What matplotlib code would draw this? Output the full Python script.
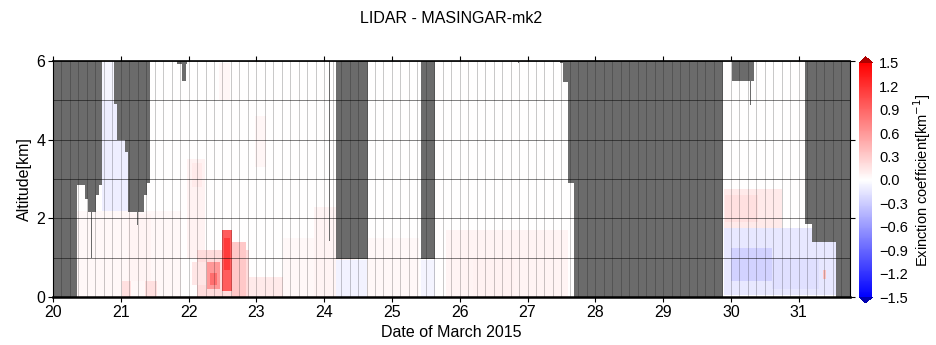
import numpy as np
import matplotlib
matplotlib.use("Agg")
import matplotlib.pyplot as plt
from matplotlib.colors import Normalize

plt.rcParams['font.family'] = ['Liberation Sans', 'DejaVu Sans']

# ---- data ----
title = "LIDAR - MASINGAR-mk2"
xlabel = "Date of March 2015"
ylabel = "Altitude[km]"
cbar_label = "Exinction coefficient[km$^{-1}$]"
day_ticks = [20, 21, 22, 23, 24, 25, 26, 27, 28, 29, 30, 31]
alt_ticks = [0, 2, 4, 6]
cbar_ticks = [-1.5, -1.2, -0.9, -0.6, -0.3, 0.0, 0.3, 0.6, 0.9, 1.2, 1.5]

# missing-data (grey) segments: start day, end day, lowest altitude of grey
gap_start = [20.00, 20.35, 20.47, 20.52, 20.565, 20.63, 20.68, 20.905, 20.94, 21.06,
             21.10, 21.24, 21.35, 21.38, 21.83, 21.90, 24.065, 24.18, 25.43, 26.855,
             27.48, 27.52, 27.60, 27.68, 30.02, 30.275, 31.09, 31.20, 31.55]
gap_end = [20.35, 20.47, 20.52, 20.63, 20.58, 20.68, 20.73, 20.94, 21.06, 21.10,
           21.35, 21.255, 21.38, 21.43, 21.97, 21.965, 24.08, 24.64, 25.64, 26.87,
           27.52, 27.60, 27.68, 29.89, 30.34, 30.29, 31.20, 31.55, 31.75]
gap_bottom = [0.0, 2.85, 2.5, 2.17, 1.0, 2.6, 2.85, 4.9, 4.0, 3.7,
              2.17, 1.83, 2.6, 2.9, 5.93, 5.5, 1.42, 0.97, 0.97, 5.95,
              5.95, 5.48, 2.9, 0.0, 5.5, 4.89, 1.85, 1.41, 0.0]

# extinction patches: start day, end day, bottom km, top km, value (km^-1)
ext_t0 = [20.35, 20.73, 20.73, 21.02, 21.36, 21.10, 21.98, 22.05, 22.12, 22.64,
          22.27, 22.32, 22.49, 22.52, 22.45, 22.98, 22.90, 23.40, 23.85, 24.18,
          24.64, 25.43, 25.80, 26.20, 29.90, 29.92, 29.90, 30.00, 30.60, 31.35,
          22.05]
ext_t1 = [21.90, 21.10, 20.90, 21.16, 21.53, 21.45, 22.24, 22.20, 22.90, 22.85,
          22.46, 22.42, 22.64, 22.60, 22.60, 23.15, 23.40, 23.90, 24.45, 24.64,
          25.40, 25.64, 27.60, 26.80, 30.75, 30.40, 31.60, 30.60, 31.30, 31.40,
          22.25]
ext_z0 = [0.0, 2.2, 5.0, 0.0, 0.0, 0.4, 1.0, 2.8, 0.0, 0.0,
          0.2, 0.3, 0.15, 0.7, 5.0, 3.3, 0.0, 0.0, 0.0, 0.0,
          0.0, 0.0, 0.0, 0.0, 1.4, 1.9, 0.05, 0.4, 0.2, 0.45,
          0.3]
ext_z1 = [2.2, 5.0, 6.0, 0.4, 0.4, 2.1, 3.5, 3.4, 1.2, 1.4,
          0.9, 0.6, 1.7, 1.5, 5.95, 4.6, 0.5, 1.5, 2.3, 0.97,
          1.5, 0.97, 1.7, 1.0, 2.75, 2.6, 1.75, 1.25, 1.0, 0.7,
          0.9]
ext_val = [0.04, -0.1, -0.05, 0.18, 0.18, 0.06, 0.08, 0.12, 0.2, 0.32,
           0.6, 0.85, 0.95, 1.15, 0.05, 0.05, 0.12, 0.04, 0.06, -0.08,
           0.04, -0.07, 0.06, 0.08, 0.12, 0.18, -0.13, -0.26, -0.18, 0.35,
           0.15]

# ---- build field on a fine grid ----
t_edges = np.linspace(20.0, 31.75, 1129)
z_edges = np.linspace(0.0, 6.0, 121)
tc = 0.5 * (t_edges[:-1] + t_edges[1:])
zc = 0.5 * (z_edges[:-1] + z_edges[1:])
field = np.zeros((zc.size, tc.size))
for a, b, c, d, v in zip(ext_t0, ext_t1, ext_z0, ext_z1, ext_val):
    m = np.outer((zc >= c) & (zc < d), (tc >= a) & (tc < b))
    field[m] = v

fig = plt.figure(figsize=(9.36, 3.45), dpi=100)
ax = fig.add_axes([0.0566, 0.139, 0.851, 0.684])

cmap = plt.get_cmap('bwr').copy()
cmap.set_over('#b00000')
cmap.set_under('#0000b0')
norm = Normalize(-1.5, 1.5)
mesh = ax.pcolormesh(t_edges, z_edges, field, cmap=cmap, norm=norm,
                     shading='flat', zorder=1)

ax.bar(gap_start, [6.0 - b for b in gap_bottom], width=np.array(gap_end) - np.array(gap_start),
       bottom=gap_bottom, align='edge', color='#6b6b6b', linewidth=0, zorder=1.5)

ax.set_xlim(20.0, 31.75)
ax.set_ylim(0, 6)
ax.set_xticks(day_ticks)
ax.set_xticks(np.arange(20.0, 31.76, 0.125), minor=True)
ax.set_yticks(alt_ticks)
ax.set_yticks([1, 3, 5], minor=True)
ax.set_axisbelow(False)
ax.grid(which='both', axis='x', color='k', alpha=0.22, linewidth=0.7)
ax.grid(which='both', axis='y', color='k', alpha=0.5, linewidth=0.7)
ax.tick_params(which='major', direction='out', length=3.5, width=0.8,
               top=True, right=True, labelsize=11.5, pad=2)
ax.tick_params(which='minor', length=0)
for side in ['left', 'right']:
    ax.spines[side].set_linewidth(0.8)
ax.spines['top'].set_linewidth(1.2)
ax.spines['bottom'].set_linewidth(1.8)

ax.set_xlabel(xlabel, fontsize=11.5, labelpad=4)
ax.set_ylabel(ylabel, fontsize=11.5, labelpad=3)
fig.text(0.4818, 0.945, title, ha='center', va='center', fontsize=11.5)

cax = fig.add_axes([0.918, 0.122, 0.014, 0.713])
cb = fig.colorbar(mesh, cax=cax, extend='both', extendfrac=0.025, ticks=cbar_ticks)
cb.outline.set_visible(False)
cb.ax.tick_params(length=0, labelsize=10.5, pad=5)
cb.ax.set_yticklabels([f"{v:.1f}".replace('-', '\u2212') for v in cbar_ticks])
cb.set_label(cbar_label, fontsize=10.5, labelpad=2)

fig.savefig('out.png', dpi=100)
